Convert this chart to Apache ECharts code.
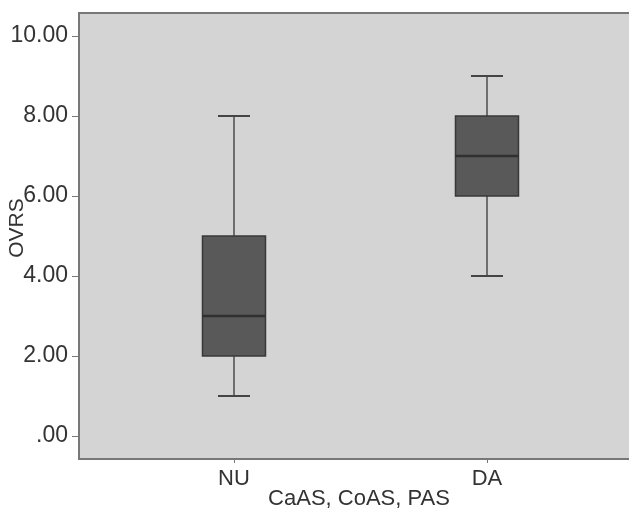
<!DOCTYPE html>
<html>
<head>
<meta charset="utf-8">
<script src="https://cdn.jsdelivr.net/npm/echarts@6/dist/echarts.min.js"></script>
<style>
html,body{margin:0;padding:0;background:#fff;}
#chart{width:629px;height:508px;}
</style>
</head>
<body>
<div id="chart"></div>
<script>
// Data
var categories = ['NU', 'DA'];
var whiskerLow = [1, 4];
var q1 = [2, 6];
var median = [3, 7];
var q3 = [5, 8];
var whiskerHigh = [8, 9];
var yTicks = [0, 2, 4, 6, 8, 10];
var xTitle = 'CaAS, CoAS, PAS';
var yTitle = 'OVRS';

var seriesData = categories.map(function (c, i) {
  return [i + 1, whiskerLow[i], q1[i], median[i], q3[i], whiskerHigh[i]];
});

var chart = echarts.init(document.getElementById('chart'), null, {renderer: 'canvas'});
var FONT = 'Liberation Sans, Arial, sans-serif';

chart.setOption({
  backgroundColor: '#ffffff',
  animation: false,
  grid: {
    left: 79, right: -2, top: 13, bottom: 49,
    containLabel: false, outerBoundsMode: 'none',
    show: true, backgroundColor: '#d4d4d4', borderColor: '#777777', borderWidth: 2
  },
  xAxis: {
    type: 'value',
    min: 0.3874, max: 2.5692,
    splitLine: {show: false},
    axisLine: {show: true, onZero: false, lineStyle: {color: '#777777', width: 2}},
    axisTick: {show: true, customValues: [1, 2], length: 4, lineStyle: {color: '#777777'}},
    axisLabel: {
      customValues: [1, 2], margin: 9,
      fontFamily: FONT, fontSize: 22, color: '#333333',
      formatter: function (v) { return categories[Math.round(v) - 1] || ''; }
    },
    name: xTitle, nameLocation: 'middle', nameGap: 29, nameMoveOverlap: false,
    nameTextStyle: {fontFamily: FONT, fontSize: 22, color: '#333333', padding: [0, 0, 0, 8]}
  },
  yAxis: {
    type: 'value',
    min: -0.575, max: 10.575,
    splitLine: {show: false},
    axisLine: {show: true, onZero: false, lineStyle: {color: '#777777', width: 2}},
    axisTick: {show: true, customValues: yTicks, length: 7, lineStyle: {color: '#777777'}},
    axisLabel: {
      customValues: yTicks, margin: 11,
      fontFamily: FONT, fontSize: 23, color: '#333333',
      formatter: function (v) { return v === 0 ? '.00' : v.toFixed(2); }
    },
    name: yTitle, nameLocation: 'middle', nameGap: 51, nameMoveOverlap: false,
    nameTextStyle: {fontFamily: FONT, fontSize: 21, color: '#333333', padding: [0, 0, 0, 16]}
  },
  series: [{
    type: 'custom',
    data: seriesData,
    encode: {x: 0, y: [1, 2, 3, 4, 5]},
    renderItem: function (params, api) {
      var x = api.value(0);
      var pLow = api.coord([x, api.value(1)]);
      var pQ1 = api.coord([x, api.value(2)]);
      var pMed = api.coord([x, api.value(3)]);
      var pQ3 = api.coord([x, api.value(4)]);
      var pHigh = api.coord([x, api.value(5)]);
      var cx = pLow[0];
      var hw = 31.5, cw = 16;
      var whisk = {stroke: '#6e6e6e', lineWidth: 2};
      var cap = {stroke: '#444444', lineWidth: 2};
      return {
        type: 'group',
        children: [
          {type: 'line', shape: {x1: cx, y1: pHigh[1], x2: cx, y2: pQ3[1]}, style: whisk},
          {type: 'line', shape: {x1: cx, y1: pQ1[1], x2: cx, y2: pLow[1]}, style: whisk},
          {type: 'line', shape: {x1: cx - cw, y1: pHigh[1], x2: cx + cw, y2: pHigh[1]}, style: cap},
          {type: 'line', shape: {x1: cx - cw, y1: pLow[1], x2: cx + cw, y2: pLow[1]}, style: cap},
          {type: 'rect', shape: {x: cx - hw, y: pQ3[1], width: 2 * hw, height: pQ1[1] - pQ3[1]},
            style: {fill: '#595959', stroke: '#383838', lineWidth: 1.5}},
          {type: 'line', shape: {x1: cx - hw, y1: pMed[1], x2: cx + hw, y2: pMed[1]},
            style: {stroke: '#303030', lineWidth: 2.5}}
        ]
      };
    }
  }]
});
</script>
</body>
</html>
